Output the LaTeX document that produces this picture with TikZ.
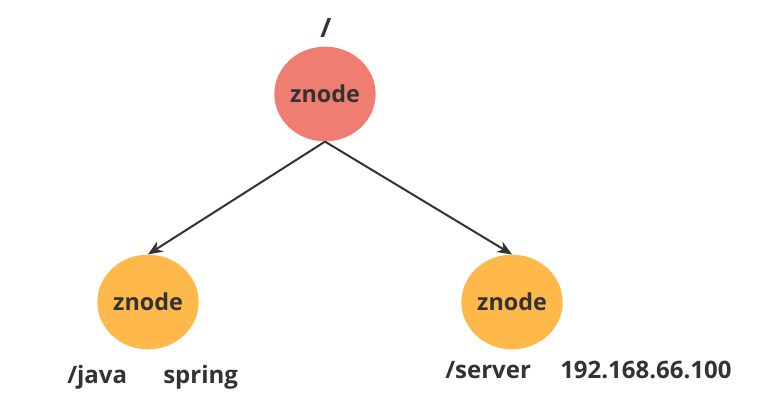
\documentclass[tikz,border=0pt]{standalone}
\usepackage{fontspec}
\setmainfont{Open Sans}
\usetikzlibrary{shapes.geometric,arrows.meta}
\definecolor{rootc}{HTML}{EF7D72}
\definecolor{leafc}{HTML}{FFB84A}
\definecolor{inkc}{HTML}{333333}
\tikzset{
  zn/.style={ellipse, inner sep=0pt, minimum width=76pt, minimum height=71pt,
    font=\fontsize{17.5}{20}\selectfont\bfseries, text=inkc},
  lbl/.style={font=\fontsize{18}{21}\selectfont\bfseries, text=inkc, inner sep=0pt, anchor=west},
  conn/.style={draw=inkc, line width=1.5pt, -{Stealth[length=11pt,width=9pt]}}
}
\begin{document}
\begin{tikzpicture}[x=0.75pt,y=-0.75pt]
\fill[white] (0,0) rectangle (766,406);
\useasboundingbox (0,0) rectangle (766,406);
\node[zn, fill=rootc] (root) at (325,94) {znode};
\node[zn, fill=leafc] (java) at (148,302) {znode};
\node[zn, fill=leafc] (server) at (512,302) {znode};
\node[lbl, anchor=center, font=\fontsize{20}{22}\selectfont\bfseries] (slash) at (326,28) {/};
\node[lbl] (jp) at (67,377) {/java};
\node[lbl] (jv) at (163,377) {spring};
\node[lbl] (sp) at (445,370) {/server};
\node[lbl] (sv) at (560,370) {192.168.66.100};
\draw[conn] (root.south) -- (java.north);
\draw[conn] (root.south) -- (server.north);
\end{tikzpicture}
\end{document}
